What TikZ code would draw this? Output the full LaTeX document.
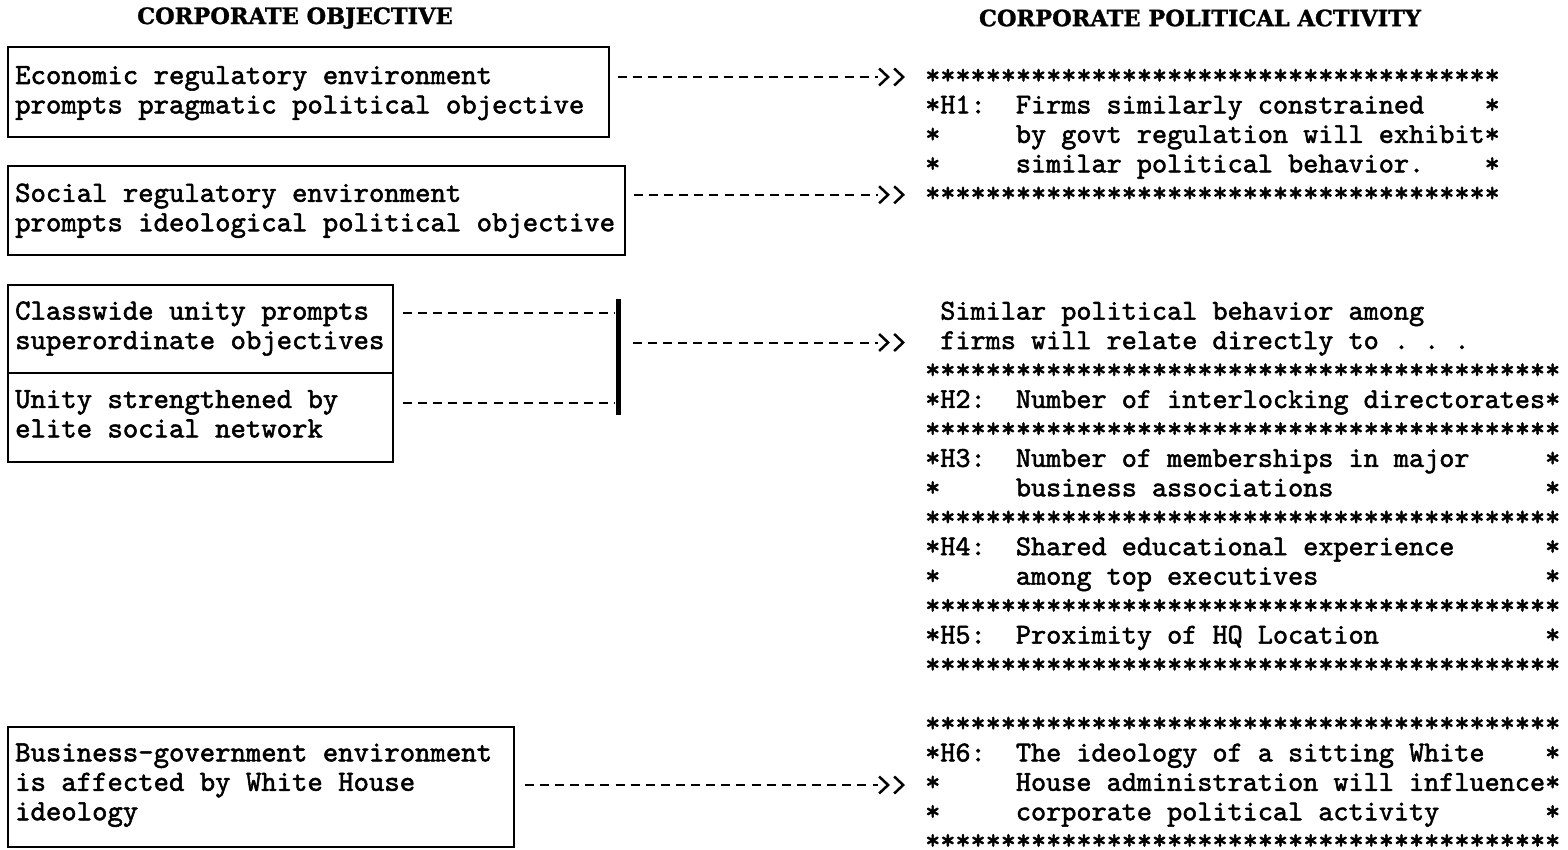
\documentclass[tikz,border=0pt]{standalone}
\usepackage{fontspec}
\setmonofont{lmmono10-regular.otf}[FakeBold=1.8]
\newfontfamily\hdfont{DejaVu Serif Bold}[FakeBold=1.2]
\usetikzlibrary{arrows.meta}
\newcommand\tenst{**********}
\tikzset{
  tw/.style={font={\ttfamily\fontsize{28.8}{29.45}\selectfont\frenchspacing}, inner sep=0pt, anchor=base west},
  bw/.style={font={\ttfamily\fontsize{29.3}{29.45}\selectfont\frenchspacing}, inner sep=0pt, anchor=base west},
  objbox/.style={draw, line width=1.6pt, inner sep=0pt},
  hdr/.style={font={\hdfont\fontsize{22.5}{25}\selectfont}, inner sep=0pt},
  dashline/.style={line width=2pt, dash pattern=on 9pt off 6.12pt},
  chev/.style={tips, -{Straight Barb[length=9pt,width=17pt,line width=2.5pt,sep=3pt]Straight Barb[length=9pt,width=17pt,line width=2.5pt]}},
  joinbar/.style={fill=black, draw=none, minimum width=5pt, minimum height=116pt, inner sep=0pt}
}
\begin{document}
\begin{tikzpicture}[x=1pt,y=-1pt]
\useasboundingbox (0,0) rectangle (1568,850);

% row coordinates (typed-line centres)
\coordinate (r2) at (0,77);
\coordinate (r6) at (0,194.8);
\coordinate (r10) at (0,313);
\coordinate (r11) at (0,342.5);
\coordinate (r13) at (0,403);
\coordinate (r26) at (0,785);

% headers
\node[hdr] (hobj) at (295,18) {CORPORATE OBJECTIVE};
\node[hdr] (hcpa) at (1200,18) {CORPORATE POLITICAL ACTIVITY};

% objective boxes
\node[objbox, minimum width=601pt, minimum height=90pt] (b1) at (308.5,92) {};
\node[objbox, minimum width=617pt, minimum height=89pt] (b2) at (316.5,210.5) {};
\node[objbox, minimum width=385pt, minimum height=88pt] (b3) at (200.5,329) {};
\node[objbox, minimum width=385pt, minimum height=89pt] (b4) at (200.5,417.5) {};
\node[objbox, minimum width=506pt, minimum height=120pt] (b5) at (261,787) {};

\node[bw] (b1a) at (15,84.0) {Economic regulatory environment};
\node[bw] (b1b) at (15,113.45) {prompts pragmatic political objective};
\node[bw] (b2a) at (15,201.8) {Social regulatory environment};
\node[bw] (b2b) at (15,231.25) {prompts ideological political objective};
\node[bw] (b3a) at (15,319.6) {Classwide unity prompts};
\node[bw] (b3b) at (15,349.05) {superordinate objectives};
\node[bw] (b4a) at (15,407.95) {Unity strengthened by};
\node[bw] (b4b) at (15,437.4) {elite social network};
\node[bw] (b5a) at (15,761.35) {Business-government environment};
\node[bw] (b5b) at (15,790.8) {is affected by White House};
\node[bw] (b5c) at (15,820.25) {ideology};

% joining bar
\node[joinbar] (bar) at (618,357) {};

% H1 block
\node[tw] (h1a) at (925,84.0) {\tenst\tenst\tenst********};
\node[tw] (h1b) at (925,113.45) {*H1:~~Firms similarly constrained~~~~*};
\node[tw] (h1c) at (925,142.9) {*~~~~~by govt regulation will exhibit*};
\node[tw] (h1d) at (925,172.35) {*~~~~~similar political behavior.~~~~*};
\node[tw] (h1e) at (925,201.8) {\tenst\tenst\tenst********};

% H2--H5 block
\node[tw] (m1) at (925,319.6) {~Similar political behavior among};
\node[tw] (m2) at (925,349.05) {~firms will relate directly to . . .};
\node[tw] (m3) at (925,378.5) {\tenst\tenst\tenst\tenst**};
\node[tw] (m4) at (925,407.95) {*H2:~~Number of interlocking directorates*};
\node[tw] (m5) at (925,437.4) {\tenst\tenst\tenst\tenst**};
\node[tw] (m6) at (925,466.85) {*H3:~~Number of memberships in major~~~~~*};
\node[tw] (m7) at (925,496.3) {*~~~~~business associations~~~~~~~~~~~~~~*};
\node[tw] (m8) at (925,525.75) {\tenst\tenst\tenst\tenst**};
\node[tw] (m9) at (925,555.2) {*H4:~~Shared educational experience~~~~~~*};
\node[tw] (m10) at (925,584.65) {*~~~~~among top executives~~~~~~~~~~~~~~~*};
\node[tw] (m11) at (925,614.1) {\tenst\tenst\tenst\tenst**};
\node[tw] (m12) at (925,643.55) {*H5:~~Proximity of HQ Location~~~~~~~~~~~*};
\node[tw] (m13) at (925,673.0) {\tenst\tenst\tenst\tenst**};

% H6 block
\node[tw] (h6a) at (925,731.9) {\tenst\tenst\tenst\tenst**};
\node[tw] (h6b) at (925,761.35) {*H6:~~The ideology of a sitting White~~~~*};
\node[tw] (h6c) at (925,790.8) {*~~~~~House administration will influence*};
\node[tw] (h6d) at (925,820.25) {*~~~~~corporate political activity~~~~~~~*};
\node[tw] (h6e) at (925,849.2) {\tenst\tenst\tenst\tenst**};

% connectors
\draw[dashline] ([xshift=8pt]b1.east |- r2) -- ([xshift=-47pt]h1a.west |- r2);
\path[chev] ([xshift=-47pt]h1a.west |- r2) -- ([xshift=-20pt]h1a.west |- r2);
\draw[dashline] ([xshift=8pt]b2.east |- r6) -- ([xshift=-47pt]h1e.west |- r6);
\path[chev] ([xshift=-47pt]h1e.west |- r6) -- ([xshift=-20pt]h1e.west |- r6);
\draw[dashline] ([xshift=9pt]b3.east |- r10) -- (bar.west |- r10);
\draw[dashline] ([xshift=9pt]b4.east |- r13) -- (bar.west |- r13);
\draw[dashline] ([xshift=12pt]bar.east |- r11) -- ([xshift=-47pt]m2.west |- r11);
\path[chev] ([xshift=-47pt]m2.west |- r11) -- ([xshift=-20pt]m2.west |- r11);
\draw[dashline] ([xshift=10pt]b5.east |- r26) -- ([xshift=-47pt]h6c.west |- r26);
\path[chev] ([xshift=-47pt]h6c.west |- r26) -- ([xshift=-20pt]h6c.west |- r26);
\end{tikzpicture}
\end{document}
